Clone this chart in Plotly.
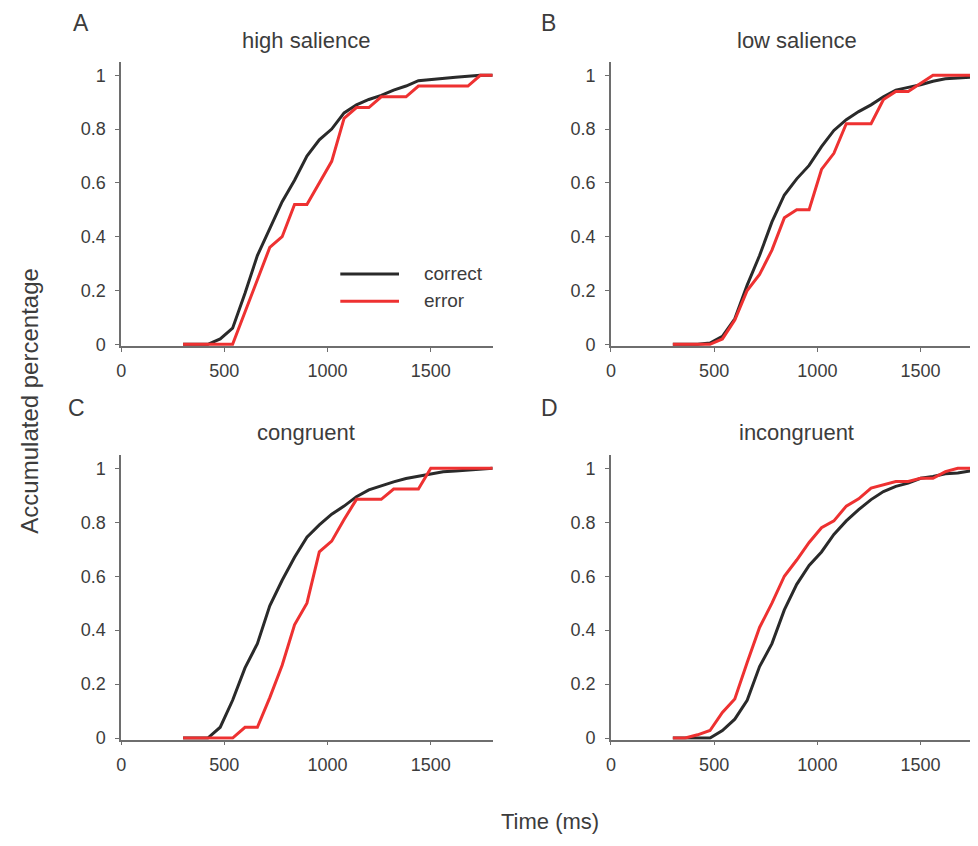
import plotly.graph_objects as go

# ---------------- data ----------------
time_ms = [300, 360, 420, 480, 540, 600, 660, 720, 780, 840, 900, 960, 1020,
           1080, 1140, 1200, 1260, 1320, 1380, 1440, 1500, 1560, 1620, 1680, 1740, 1800]

high_correct = [0, 0, 0, 0.02, 0.06, 0.19, 0.33, 0.43, 0.53, 0.61, 0.70, 0.76, 0.80,
                0.86, 0.89, 0.91, 0.925, 0.945, 0.96, 0.98, 0.985, 0.99, 0.993, 0.996, 1.0, 1.0]
high_error = [0, 0, 0, 0, 0, 0.12, 0.24, 0.36, 0.40, 0.52, 0.52, 0.60, 0.68,
              0.84, 0.88, 0.88, 0.92, 0.92, 0.92, 0.96, 0.96, 0.96, 0.96, 0.96, 1.0, 1.0]

low_correct = [0, 0, 0, 0.005, 0.03, 0.095, 0.22, 0.33, 0.455, 0.555, 0.615, 0.665, 0.735,
               0.795, 0.835, 0.865, 0.89, 0.92, 0.945, 0.955, 0.965, 0.978, 0.987, 0.99, 0.993, 0.995]
low_error = [0, 0, 0, 0, 0.02, 0.09, 0.20, 0.26, 0.35, 0.47, 0.50, 0.50, 0.65,
             0.71, 0.82, 0.82, 0.82, 0.91, 0.94, 0.94, 0.97, 1.0, 1.0, 1.0, 1.0, 1.0]

cong_correct = [0, 0, 0, 0.04, 0.14, 0.26, 0.35, 0.49, 0.585, 0.67, 0.745, 0.79, 0.83,
                0.86, 0.895, 0.92, 0.935, 0.95, 0.962, 0.97, 0.98, 0.987, 0.99, 0.993, 0.997, 1.0]
cong_error = [0, 0, 0, 0, 0, 0.04, 0.04, 0.15, 0.27, 0.42, 0.50, 0.69, 0.73,
              0.81, 0.885, 0.885, 0.885, 0.923, 0.923, 0.923, 1.0, 1.0, 1.0, 1.0, 1.0, 1.0]

incong_correct = [0, 0, 0, 0, 0.028, 0.07, 0.14, 0.265, 0.35, 0.475, 0.57, 0.64, 0.69,
                  0.755, 0.805, 0.847, 0.884, 0.914, 0.933, 0.945, 0.963, 0.97, 0.98, 0.983, 0.99, 0.995]
incong_error = [0, 0, 0.012, 0.028, 0.095, 0.145, 0.28, 0.41, 0.50, 0.60, 0.66, 0.725, 0.78,
                0.805, 0.86, 0.887, 0.927, 0.94, 0.951, 0.951, 0.963, 0.963, 0.988, 1.0, 1.0, 1.0]

panel_titles = ["high salience", "low salience", "congruent", "incongruent"]
panel_letters = ["A", "B", "C", "D"]
series_names = ["correct", "error"]

x_tickvals = [0, 500, 1000, 1500]
y_tickvals = [0, 0.2, 0.4, 0.6, 0.8, 1]
y_ticktext = ["0", "0.2", "0.4", "0.6", "0.8", "1"]

# ---------------- styling ----------------
# the page body keeps an 8px margin, so the figure is sized to fit the window
OFF = 8
W, H = 978 - OFF, 846 - OFF
BLACK = "#2a2a2a"
RED = "#ee3131"
TEXT = "#3c3c3c"
AXIS = "#6e6e6e"
FONT = "Liberation Sans, Arial, Helvetica, sans-serif"


def px(x):
    return (x - OFF) / W


def py(y):
    return 1 - (y - OFF) / H


panels = [
    (high_correct, high_error),
    (low_correct, low_error),
    (cong_correct, cong_error),
    (incong_correct, incong_error),
]

# domains (window pixels converted to paper fractions)
x_left = [px(116.7), px(490.2)]
x_right = [px(609.0), 1.0]
y_top = [py(349.6), py(62.4)]
y_bot = [py(747.6), py(459.7)]
domains = [(x_left, y_top), (x_right, y_top), (x_left, y_bot), (x_right, y_bot)]
x_ranges = [[0, 1800], [0, 1778], [0, 1800], [0, 1778]]

fig = go.Figure()
for i, (corr, err) in enumerate(panels):
    xa = "x" if i == 0 else f"x{i+1}"
    ya = "y" if i == 0 else f"y{i+1}"
    fig.add_trace(go.Scatter(x=time_ms, y=corr, mode="lines", name=series_names[0],
                             line=dict(color=BLACK, width=3), xaxis=xa, yaxis=ya,
                             showlegend=False))
    fig.add_trace(go.Scatter(x=time_ms, y=err, mode="lines", name=series_names[1],
                             line=dict(color=RED, width=3), xaxis=xa, yaxis=ya,
                             showlegend=False))

axis_common = dict(showgrid=False, zeroline=False, showline=True, linecolor=AXIS,
                   linewidth=1.5, ticks="outside", ticklen=4, tickcolor=AXIS, tickwidth=1,
                   tickfont=dict(family=FONT, size=18, color=TEXT), fixedrange=True)

layout = dict(width=W, height=H, margin=dict(l=0, r=0, t=0, b=0),
              paper_bgcolor="white", plot_bgcolor="white", showlegend=False)
for i, (dx, dy) in enumerate(domains):
    xk = "xaxis" if i == 0 else f"xaxis{i+1}"
    yk = "yaxis" if i == 0 else f"yaxis{i+1}"
    xa_anchor = "y" if i == 0 else f"y{i+1}"
    ya_anchor = "x" if i == 0 else f"x{i+1}"
    layout[xk] = dict(domain=dx, range=x_ranges[i], tickvals=x_tickvals,
                      anchor=xa_anchor, ticklabelstandoff=4, **axis_common)
    layout[yk] = dict(domain=dy, range=[-0.006, 1.05], tickvals=y_tickvals,
                      ticktext=y_ticktext, anchor=ya_anchor, ticklabelstandoff=6,
                      **axis_common)
fig.update_layout(**layout)

# panel titles
title_pos = [(303, 41), (796, 41), (303, 437), (796, 437)]
for i in range(4):
    fig.add_annotation(text=panel_titles[i], x=px(title_pos[i][0]), y=py(title_pos[i][1]),
                       xref="paper", yref="paper", showarrow=False, xanchor="center",
                       yanchor="middle", font=dict(family=FONT, size=22, color=TEXT))

# panel letters (top row pinned to the top edge so they are not cut off)
letter_specs = [(76, None), (546, None), (72, 412), (547, 412)]
for i, (lx, ly) in enumerate(letter_specs):
    if ly is None:
        yv, ya_ = 1.0, "top"
    else:
        yv, ya_ = py(ly), "middle"
    fig.add_annotation(text=panel_letters[i], x=px(lx), y=yv, xref="paper", yref="paper",
                       showarrow=False, xanchor="center", yanchor=ya_,
                       font=dict(family=FONT, size=23, color=TEXT))

# shared axis titles
fig.add_annotation(text="Accumulated percentage", x=px(25), y=py(405), xref="paper",
                   yref="paper", showarrow=False, textangle=-90, xanchor="center",
                   yanchor="middle", font=dict(family=FONT, size=24, color=TEXT))
fig.add_annotation(text="Time (ms)", x=px(548), y=py(830), xref="paper", yref="paper",
                   showarrow=False, xanchor="center", yanchor="middle",
                   font=dict(family=FONT, size=22, color=TEXT))

# legend drawn inside panel A
legend_rows = [(series_names[0], BLACK, 277), (series_names[1], RED, 304.5)]
for name, col, yy in legend_rows:
    fig.add_shape(type="line", xref="paper", yref="paper", x0=px(337), x1=px(396),
                  y0=py(yy), y1=py(yy), line=dict(color=col, width=3))
    fig.add_annotation(text=name, x=px(419), y=py(yy - 1), xref="paper", yref="paper",
                       showarrow=False, xanchor="left", yanchor="middle",
                       font=dict(family=FONT, size=19, color=TEXT))

fig.write_html("out.html")
